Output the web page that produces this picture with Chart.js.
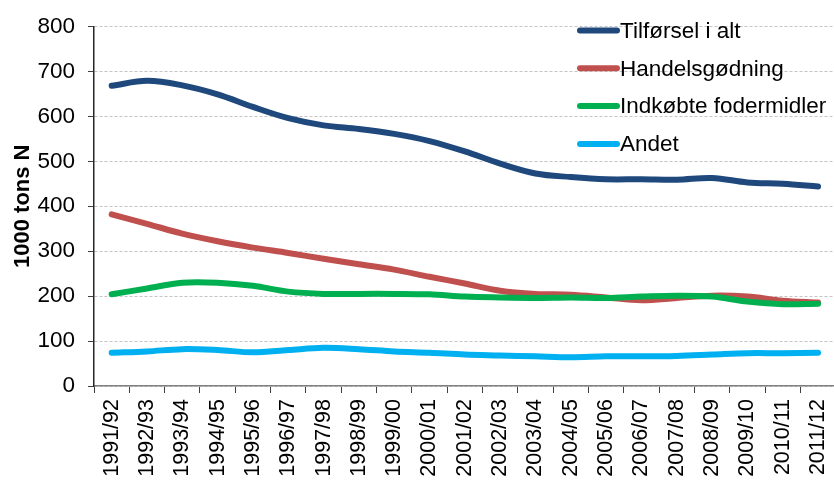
<!DOCTYPE html>
<html>
<head>
<meta charset="utf-8">
<script src="https://cdn.jsdelivr.net/npm/chart.js@4.4.1/dist/chart.umd.min.js"></script>
<style>
    html, body { margin: 0; padding: 0; background: #fff; overflow: hidden; }
    #wrap { position: absolute; left: 0; top: 0; width: 850px; height: 484px; }
</style>
</head>
<body>
<div id="wrap"><canvas id="chart" width="850" height="484"></canvas></div>
<script>

    // periods on the x axis
    var seasons = ['1991/92', '1992/93', '1993/94', '1994/95', '1995/96', '1996/97', '1997/98',
        '1998/99', '1999/00', '2000/01', '2001/02', '2002/03', '2003/04', '2004/05',
        '2005/06', '2006/07', '2007/08', '2008/09', '2009/10', '2010/11', '2011/12'];

    // 1000 tons N
    var tilforsel = [668, 679, 669, 649, 621, 596, 580, 572, 561, 545, 522, 495, 473, 465, 460, 460, 459, 463, 453, 450, 444];
    var handelsgodning = [382, 361, 339, 322, 308, 296, 283, 271, 259, 243, 228, 212, 205, 203, 197, 191, 196, 201, 199, 190, 186];
    var fodermidler = [204, 217, 230, 230, 223, 210, 205, 205, 205, 204, 199, 197, 196, 197, 196, 199, 201, 199, 188, 182, 183];
    var andet = [74, 77, 82, 80, 75, 80, 85, 82, 77, 74, 70, 68, 66, 64, 66, 66, 67, 70, 73, 73, 74];

    var seriesNames = ['Tilførsel i alt', 'Handelsgødning', 'Indkøbte fodermidler', 'Andet'];
    var seriesColors = ['#1F497D', '#C0504D', '#00B050', '#00B0F0'];

    var yTicks = [0, 100, 200, 300, 400, 500, 600, 700, 800];

    var FONT = '"Liberation Sans", Arial, sans-serif';

    function makeSet(i, values) {
        return {
            label: seriesNames[i],
            data: values,
            borderColor: seriesColors[i],
            backgroundColor: seriesColors[i],
            borderWidth: 6,
            borderCapStyle: 'round',
            borderJoinStyle: 'round',
            pointRadius: 0,
            tension: 0.35,
            fill: false,
            order: 4 - i
        };
    }

    // legend drawn inside the plot, top right, like the original
    var insideLegend = {
        id: 'insideLegend',
        afterDraw: function(chart) {
            var ctx = chart.ctx;
            ctx.save();
            ctx.font = '22.5px ' + FONT;
            ctx.textBaseline = 'middle';
            ctx.textAlign = 'left';
            chart.data.datasets.forEach(function(ds, i) {
                var y = 30.5 + i * 37.8;
                ctx.strokeStyle = ds.borderColor;
                ctx.lineWidth = 6;
                ctx.lineCap = 'round';
                ctx.beginPath();
                ctx.moveTo(580, y);
                ctx.lineTo(617, y);
                ctx.stroke();
                ctx.fillStyle = '#000';
                ctx.fillText(ds.label, 620, y + 1);
            });
            ctx.restore();
        }
    };

    var ctx = document.getElementById('chart');
    var chart = new Chart(ctx, {
        type: 'line',
        data: {
            labels: seasons,
            datasets: [makeSet(0, tilforsel), makeSet(1, handelsgodning), makeSet(2, fodermidler), makeSet(3, andet)]
        },
        options: {
            responsive: false,
            animation: false,
            layout: { padding: { left: 0, top: 20, right: 6, bottom: 0 } },
            plugins: {
                legend: { display: false },
                tooltip: { enabled: false }
            },
            scales: {
                x: {
                    offset: true,
                    afterFit: function(scale) { scale.height = 98; },
                    grid: {
                        offset: true,
                        drawOnChartArea: false,
                        drawTicks: true,
                        tickLength: 7,
                        tickColor: '#404040',
                        tickWidth: 1
                    },
                    border: { display: true, color: '#808080', width: 1.5 },
                    ticks: {
                        minRotation: 90,
                        maxRotation: 90,
                        autoSkip: false,
                        padding: 6,
                        color: '#000',
                        font: { family: FONT, size: 21.5 }
                    }
                },
                y: {
                    min: 0,
                    max: 800,
                    afterFit: function(scale) { scale.width = 94; },
                    afterBuildTicks: function(scale) {
                        scale.ticks = yTicks.map(function(v) { return { value: v }; });
                    },
                    grid: {
                        color: '#C4C4C4',
                        lineWidth: 1,
                        drawTicks: true,
                        tickLength: 6,
                        tickColor: '#404040',
                        tickWidth: 1
                    },
                    border: { display: true, color: '#262626', width: 1.5, dash: [3, 2] },
                    ticks: {
                        padding: 13,
                        color: '#000',
                        font: { family: FONT, size: 22.5 }
                    },
                    title: {
                        display: true,
                        text: '1000 tons N',
                        color: '#000',
                        padding: { top: 10, bottom: 0 },
                        font: { family: FONT, size: 22, weight: 'bold' }
                    }
                }
            }
        },
        plugins: [insideLegend]
    });

</script>
</body>
</html>
